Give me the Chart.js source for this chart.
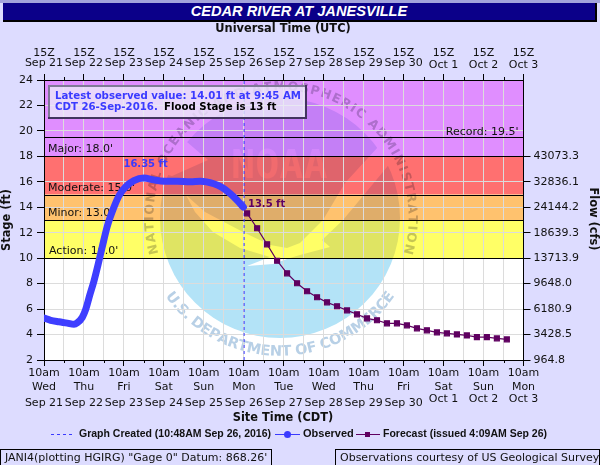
<!DOCTYPE html>
<html>
<head>
<meta charset="utf-8">
<title>Cedar River at Janesville</title>
<script src="https://cdn.jsdelivr.net/npm/chart.js@4"></script>
<style>
    html, body { margin: 0; padding: 0; width: 600px; height: 465px; overflow: hidden; background: #dddcff; }
    #chart { position: absolute; left: 0; top: 0; }
    #topStripe { position: absolute; left: 0; top: 0; width: 600px; height: 3px; background: #a3a3dc; }
    #title {
        position: absolute; left: 3px; top: 3px; width: 592px; height: 17px; line-height: 19px;
        background: #0b0089; border-right: 2px solid #000; border-bottom: 2px solid #000;
        color: #fff; font: italic bold 14.6px "Liberation Sans", sans-serif; text-align: center;
    }
    .foot {
        position: absolute; top: 449px; height: 20px; border: 1px solid #000; box-sizing: border-box;
        font: 11px "DejaVu Sans", sans-serif; line-height: 16px; color: #111; white-space: nowrap;
    }
    #footLeft { left: 0; width: 272px; padding-left: 4px; }
    #footRight { left: 335px; width: 265px; padding-left: 4px; }
</style>
</head>
<body>
<div id="topStripe"></div>
<div id="title">CEDAR RIVER AT JANESVILLE</div>
<canvas id="chart" width="600" height="465"></canvas>
<div class="foot" id="footLeft">JANI4(plotting HGIRG) "Gage 0" Datum: 868.26'</div>
<div class="foot" id="footRight">Observations courtesy of US Geological Survey</div>
<script>
document.addEventListener('DOMContentLoaded', () => {
    const FONT = '"DejaVu Sans", sans-serif';
    const BOLD = 'bold 10.5px "Liberation Sans", sans-serif';
    const NOTE = 'bold 10.2px ' + FONT;

    // hours after 10am CDT Sep 21
    const observed = [
        [0, 5.3], [4, 5.12], [9, 5.0], [14, 4.9], [18, 4.8], [20, 4.92], [23, 5.35], [25, 5.95], [27.5, 7.1],
        [30, 8.2], [32.5, 9.5], [35, 10.9], [38, 12.5], [42, 14.0], [45, 14.9], [49, 15.6], [54, 16.1], [60, 16.3],
        [66, 16.15], [72, 16.05], [80, 16.05], [88, 16.0], [94, 16.05], [102, 15.85], [107, 15.55], [112, 15.05],
        [116, 14.55], [119.75, 14.01]
    ];
    const forecast = [
        13.52, 12.35, 11.09, 9.8, 8.81, 8.03, 7.4, 6.93, 6.53, 6.22, 5.9, 5.59, 5.27, 5.12,
        4.88, 4.88, 4.72, 4.49, 4.33, 4.17, 4.09, 4.01, 3.93, 3.8, 3.8, 3.7, 3.62
    ];
    const flow = { 18: '43073.3', 16: '32836.1', 14: '24144.2', 12: '18639.3', 10: '13713.9', 8: '9648.0', 6: '6180.9', 4: '3428.5', 2: '964.8' };
    const days = [
        ['Wed', 'Sep 21'], ['Thu', 'Sep 22'], ['Fri', 'Sep 23'], ['Sat', 'Sep 24'], ['Sun', 'Sep 25'], ['Mon', 'Sep 26'],
        ['Tue', 'Sep 27'], ['Wed', 'Sep 28'], ['Thu', 'Sep 29'], ['Fri', 'Sep 30'], ['Sat', 'Oct 1'], ['Sun', 'Oct 2'], ['Mon', 'Oct 3']
    ];
    const bands = [
        { from: 18, to: 24, color: '#e08eff', label: "Major: 18.0'", dx: 4 },
        { from: 15, to: 18, color: '#ff7070', label: "Moderate: 15.0'", dx: 4 },
        { from: 13, to: 15, color: '#ffc26e', label: "Minor: 13.0'", dx: 4 },
        { from: 10, to: 13, color: '#ffff66', label: "Action: 10.0'", dx: 5 }
    ];
    const recordStage = 19.5;
    const created = 120.2;

    function text(ctx, str, x, y, font, color, align) {
        ctx.font = font;
        ctx.fillStyle = color;
        ctx.textAlign = align || 'left';
        ctx.textBaseline = 'middle';
        ctx.fillText(str, x, y);
    }

    // text along a circle, centred on the angle mid (radians, 0 = up), spread over span px of arc
    function arcText(c, str, cx, cy, r, mid, span, bottom) {
        const chars = [...str];
        const widths = chars.map(ch => c.measureText(ch).width);
        const total = widths.reduce((a, b) => a + b, 0);
        const gap = (span - total) / (chars.length - 1);
        let run = -span / 2;
        c.textAlign = 'center';
        c.textBaseline = 'middle';
        chars.forEach((ch, i) => {
            const off = (run + widths[i] / 2) / r;
            const a = mid + (bottom ? -off : off);
            c.save();
            c.translate(cx + r * Math.sin(a), cy - r * Math.cos(a));
            c.rotate(bottom ? a + Math.PI : a);
            c.fillText(ch, 0, 0);
            c.restore();
            run += widths[i] + gap;
        });
    }

    // the NOAA seal behind the plot, painted once per tint
    function seal(tint, ringTint) {
        const cv = document.createElement('canvas');
        cv.width = 600;
        cv.height = 465;
        const c = cv.getContext('2d');
        const cx = 280, cy = 218, r = 120;
        const poly = pts => {
            c.beginPath();
            pts.forEach((p, i) => i ? c.lineTo(p[0], p[1]) : c.moveTo(p[0], p[1]));
            c.closePath();
            c.fill();
        };
        c.fillStyle = tint;
        c.beginPath();
        c.arc(cx, cy, r, 0, Math.PI * 2);
        c.fill();
        c.globalCompositeOperation = 'destination-out';
        c.fillStyle = '#000';
        // gull
        poly([[186, 195], [205, 212], [243, 232], [270, 245], [287, 248], [300, 243], [323, 220], [345, 183], [378, 147], [392, 160],
            [387, 167], [343, 220], [322, 240], [330, 247], [300, 255], [290, 258], [273, 264], [247, 266], [270, 257], [240, 248], [213, 232], [195, 212]]);
        // gap between the ring and the sky, upper left
        poly([[165, 130], [187, 142], [208, 160], [172, 176], [150, 170]]);
        // right of the sky
        poly([[377, 147], [395, 120], [420, 170], [388, 166]]);
        c.globalAlpha = 0.55;
        c.font = 'bold 34px "DejaVu Sans Mono", monospace';
        c.textAlign = 'left';
        c.textBaseline = 'alphabetic';
        c.save();
        c.translate(231, 178);
        c.scale(1.18, 1.16);
        c.fillText('NOAA', 0, 0);
        c.restore();
        c.globalAlpha = 1;
        c.globalCompositeOperation = 'source-over';
        c.fillStyle = ringTint;
        c.font = 'bold 12.5px "DejaVu Sans", sans-serif';
        arcText(c, 'NATIONAL OCEANIC AND ATMOSPHERIC ADMINISTRATION', cx + 1, cy, 131, 0, 485, false);
        c.font = 'bold 14.5px "DejaVu Sans", sans-serif';
        arcText(c, 'U.S. DEPARTMENT OF COMMERCE', cx, cy - 2, 136, Math.PI, 262, true);
        return cv;
    }
    const sealTop = seal('#dfe4f6', '#c6c6cc');
    const sealLow = seal('#b3e3f7', '#b8d0e6');

    const backdrop = {
        id: 'backdrop',
        beforeDraw(chart) {
            const { ctx, chartArea: a, scales: { y } } = chart;
            const w = a.right - a.left;
            ctx.save();
            ctx.fillStyle = '#fff';
            ctx.fillRect(a.left, a.top, w, a.bottom - a.top);
            bands.forEach(b => {
                ctx.fillStyle = b.color;
                ctx.fillRect(a.left, y.getPixelForValue(b.to), w, y.getPixelForValue(b.from) - y.getPixelForValue(b.to));
            });
            const split = y.getPixelForValue(10);
            ctx.globalCompositeOperation = 'multiply';
            ctx.save();
            ctx.beginPath();
            ctx.rect(a.left, a.top, w, split - a.top);
            ctx.clip();
            ctx.drawImage(sealTop, 0, 0);
            ctx.restore();
            ctx.beginPath();
            ctx.rect(a.left, split, w, a.bottom - split);
            ctx.clip();
            ctx.drawImage(sealLow, 0, 0);
            ctx.restore();
        },
        beforeDatasetsDraw(chart) {
            const { ctx, chartArea: a, scales: { y } } = chart;
            ctx.save();
            ctx.strokeStyle = '#000';
            ctx.lineWidth = 1;
            const rule = v => {
                const py = Math.round(y.getPixelForValue(v)) + 0.5;
                ctx.beginPath();
                ctx.moveTo(a.left, py);
                ctx.lineTo(a.right, py);
                ctx.stroke();
                return py;
            };
            bands.forEach(b => {
                const py = rule(b.from);
                text(ctx, b.label, a.left + b.dx, py - 7, '11px ' + FONT, '#111');
            });
            const rec = rule(recordStage);
            text(ctx, "Record: 19.5'", a.right - 5, rec - 5, '11px ' + FONT, '#111', 'right');
            ctx.restore();
        },
        afterDraw(chart) {
            const { ctx, chartArea: a, scales: { x, y } } = chart;
            ctx.save();
            // minor ticks and the date rows
            ctx.strokeStyle = '#000';
            ctx.lineWidth = 1;
            for (let h = 12; h < 288; h += 24) {
                const px = Math.round(x.getPixelForValue(h)) + 0.5;
                ctx.beginPath();
                ctx.moveTo(px, a.top - 3);
                ctx.lineTo(px, a.top);
                ctx.moveTo(px, a.bottom);
                ctx.lineTo(px, a.bottom + 3);
                ctx.stroke();
            }
            days.forEach((d, i) => {
                const px = x.getPixelForValue(i * 24);
                const oct = d[1].startsWith('Oct');
                text(ctx, d[1], px, oct ? 65 : 63, '11px ' + FONT, '#111', 'center');
                text(ctx, d[1], px, oct ? 399 : 403, '11px ' + FONT, '#111', 'center');
            });
            // axis titles
            text(ctx, 'Universal Time (UTC)', 283, 29, 'bold 11.4px ' + FONT, '#111', 'center');
            text(ctx, 'Site Time (CDT)', 283, 418, 'bold 11.4px ' + FONT, '#111', 'center');
            ctx.save();
            ctx.translate(7, 220);
            ctx.rotate(-Math.PI / 2);
            text(ctx, 'Stage (ft)', 0, 0, 'bold 11.4px ' + FONT, '#111', 'center');
            ctx.restore();
            ctx.save();
            ctx.translate(593, 219);
            ctx.rotate(Math.PI / 2);
            text(ctx, 'Flow (cfs)', 0, 0, 'bold 11.4px ' + FONT, '#111', 'center');
            ctx.restore();

            // info box
            ctx.fillStyle = 'rgba(236,236,248,0.78)';
            ctx.fillRect(49, 86, 256, 32);
            ctx.fillStyle = '#807a98';
            ctx.fillRect(48, 85, 258, 2);
            ctx.fillRect(48, 85, 2, 34);
            ctx.fillStyle = '#43345f';
            ctx.fillRect(48, 117, 259, 2);
            ctx.fillRect(305, 85, 2, 34);
            text(ctx, 'Latest observed value: 14.01 ft at 9:45 AM', 55, 96, NOTE, '#3a3aff');
            text(ctx, 'CDT 26-Sep-2016.', 55, 107, NOTE, '#3a3aff');
            text(ctx, 'Flood Stage is 13 ft', 164, 107, NOTE, '#000');

            // peak and forecast start
            text(ctx, '16.35 ft', x.getPixelForValue(61), y.getPixelForValue(17.4), 'bold 10px ' + FONT, '#3a3aff', 'center');
            text(ctx, '13.5 ft', x.getPixelForValue(122.5), y.getPixelForValue(14.2), 'bold 10px ' + FONT, '#5f0060');

            // legend
            const ly = 434;
            ctx.strokeStyle = '#3a3aff';
            ctx.lineWidth = 1;
            ctx.setLineDash([3, 3]);
            ctx.beginPath();
            ctx.moveTo(51, ly + 0.5);
            ctx.lineTo(73, ly + 0.5);
            ctx.stroke();
            ctx.setLineDash([]);
            text(ctx, 'Graph Created (10:48AM Sep 26, 2016)', 79, ly, BOLD, '#111');
            ctx.beginPath();
            ctx.moveTo(275, ly + 0.5);
            ctx.lineTo(300, ly + 0.5);
            ctx.stroke();
            ctx.fillStyle = '#3a3aff';
            ctx.beginPath();
            ctx.arc(287.5, ly + 0.5, 3.5, 0, Math.PI * 2);
            ctx.fill();
            text(ctx, 'Observed', 303, ly, 'bold 11px "Liberation Sans", sans-serif', '#111');
            ctx.strokeStyle = '#5f0060';
            ctx.beginPath();
            ctx.moveTo(356, ly + 0.5);
            ctx.lineTo(380, ly + 0.5);
            ctx.stroke();
            ctx.fillStyle = '#5f0060';
            ctx.fillRect(365, ly - 2, 5, 5);
            text(ctx, 'Forecast (issued 4:09AM Sep 26)', 383, ly, BOLD, '#111');
            ctx.restore();
        }
    };

    const tickFont = { family: '"DejaVu Sans", sans-serif', size: 11 };
    const majorTick = c => (c.tick && c.tick.value % 24 === 0 ? '#000' : 'rgba(0,0,0,0)');

    new Chart(document.getElementById('chart'), {
        type: 'line',
        data: {
            datasets: [
                {
                    label: 'Graph Created',
                    data: [{ x: created, y: 2 }, { x: created, y: 24 }],
                    borderColor: '#3a3aff',
                    borderWidth: 1,
                    borderDash: [3, 3],
                    pointRadius: 0,
                    order: 3
                },
                {
                    label: 'Observed',
                    data: observed.map(p => ({ x: p[0], y: p[1] })),
                    borderColor: '#3e3eff',
                    borderWidth: 7,
                    borderCapStyle: 'round',
                    pointRadius: 0,
                    cubicInterpolationMode: 'monotone',
                    order: 2
                },
                {
                    label: 'Forecast',
                    data: forecast.map((v, i) => ({ x: 122 + i * 6, y: v })),
                    borderColor: '#5f0060',
                    backgroundColor: '#5f0060',
                    borderWidth: 1.2,
                    pointStyle: 'rect',
                    pointRadius: 3.5,
                    order: 1
                }
            ]
        },
        options: {
            responsive: false,
            animation: false,
            devicePixelRatio: 1,
            layout: { padding: 0 },
            plugins: { legend: { display: false }, tooltip: { enabled: false } },
            scales: {
                x: {
                    type: 'linear',
                    position: 'bottom',
                    min: 0,
                    max: 288,
                    afterFit: s => { s.height = 105; },
                    grid: { color: '#dcdcdc', tickLength: 6, tickColor: majorTick },
                    border: { color: '#000' },
                    ticks: {
                        stepSize: 12,
                        autoSkip: false,
                        maxRotation: 0,
                        padding: 0,
                        font: { ...tickFont, lineHeight: 1.27 },
                        color: '#111',
                        callback: v => (v % 24 === 0 ? ['10am', days[v / 24][0]] : '')
                    }
                },
                xTop: {
                    type: 'linear',
                    position: 'top',
                    min: 0,
                    max: 288,
                    afterFit: s => { s.height = 80; },
                    grid: { drawOnChartArea: false, tickLength: 6, tickColor: majorTick },
                    border: { color: '#000' },
                    ticks: {
                        stepSize: 12,
                        autoSkip: false,
                        maxRotation: 0,
                        padding: 14,
                        font: tickFont,
                        color: '#111',
                        callback: v => (v % 24 === 0 ? '15Z' : '')
                    }
                },
                y: {
                    position: 'left',
                    min: 2,
                    max: 24,
                    afterFit: s => { s.width = 44; },
                    grid: { color: '#dcdcdc', tickLength: 7, tickColor: '#000' },
                    border: { color: '#000' },
                    ticks: { stepSize: 2, padding: 4, font: tickFont, color: '#111' }
                },
                y1: {
                    position: 'right',
                    min: 2,
                    max: 24,
                    afterFit: s => { s.width = 76.5; },
                    grid: { drawOnChartArea: false, tickLength: 7, tickColor: c => (c.tick && c.tick.value <= 18 ? '#000' : 'rgba(0,0,0,0)') },
                    border: { color: '#000' },
                    ticks: { stepSize: 2, padding: 3, font: tickFont, color: '#111', callback: v => flow[v] || '' }
                }
            }
        },
        plugins: [backdrop]
    });
});
</script>
</body>
</html>
